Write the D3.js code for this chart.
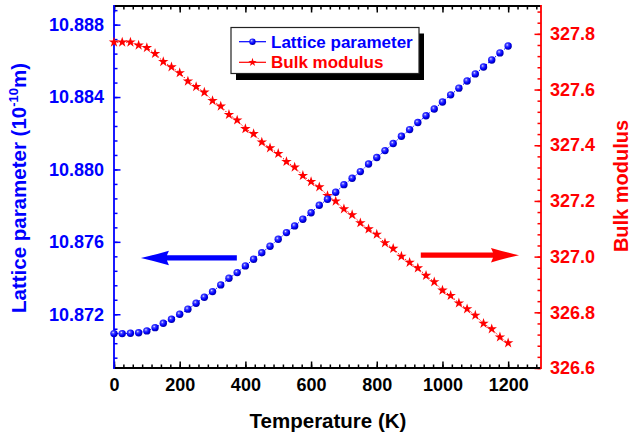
<!DOCTYPE html>
<html>
<head>
<meta charset="utf-8">
<script src="https://cdn.jsdelivr.net/npm/d3@7"></script>
<style>
    body { margin: 0; background: #fff; }
    svg { display: block; font-family: "Liberation Sans", Arial, sans-serif; font-weight: bold; }
</style>
</head>
<body>
<svg id="chart" width="633" height="435"></svg>
<script>
// data
const temperature = [0, 25, 50, 75, 100, 125, 150, 175, 200, 225, 250, 275, 300, 325, 350, 375, 400,
    425, 450, 475, 500, 525, 550, 575, 600, 625, 650, 675, 700, 725, 750, 775, 800,
    825, 850, 875, 900, 925, 950, 975, 1000, 1025, 1050, 1075, 1100, 1125, 1150, 1175, 1200];
const latticeParam = [10.87093, 10.87093, 10.87095, 10.87098, 10.87108, 10.87126, 10.87150, 10.87172,
    10.87200, 10.87228, 10.87261, 10.87294, 10.87325, 10.87362, 10.87399, 10.87430, 10.87467,
    10.87504, 10.87540, 10.87576, 10.87614, 10.87651, 10.87688, 10.87725, 10.87761, 10.87802,
    10.87835, 10.87874, 10.87916, 10.87951, 10.87988, 10.88030, 10.88066, 10.88104, 10.88143,
    10.88183, 10.88220, 10.88259, 10.88297, 10.88334, 10.88373, 10.88412, 10.88449, 10.88489,
    10.88528, 10.88566, 10.88605, 10.88644, 10.88682];
const bulkModulus = [327.770, 327.770, 327.770, 327.759, 327.750, 327.729, 327.700, 327.681, 327.660,
    327.630, 327.610, 327.590, 327.560, 327.540, 327.510, 327.490, 327.459, 327.441, 327.411,
    327.390, 327.370, 327.341, 327.321, 327.291, 327.269, 327.250, 327.219, 327.199, 327.171,
    327.150, 327.121, 327.099, 327.080, 327.049, 327.029, 327.001, 326.979, 326.959, 326.932,
    326.909, 326.879, 326.860, 326.833, 326.812, 326.789, 326.760, 326.740, 326.711, 326.690];

const xTicks = [0, 200, 400, 600, 800, 1000, 1200];
const leftTicks = [10.872, 10.876, 10.880, 10.884, 10.888];
const rightTicks = [326.6, 326.8, 327.0, 327.2, 327.4, 327.6, 327.8];
const seriesNames = ["Lattice parameter", "Bulk modulus"];
// arrows: [x start, x end, y] in data units of their own axis
const leftArrow = [374, 82, 10.87511];
const rightArrow = [934, 1233, 327.005];

const blue = "#0000ff";
const red = "#ff0000";

const svg = d3.select("#chart");
const plot = { left: 114, right: 541, top: 6, bottom: 368 };

const x = d3.scaleLinear().domain([0, 1300]).range([plot.left, plot.right]);
const yL = d3.scaleLinear().domain([10.86903, 10.88903]).range([plot.bottom, plot.top]);
const yR = d3.scaleLinear().domain([326.6, 327.9]).range([plot.bottom, plot.top]);

// ball gradient
const defs = svg.append("defs");
const grad = defs.append("radialGradient").attr("id", "ball")
    .attr("cx", "38%").attr("cy", "35%").attr("r", "65%");
grad.append("stop").attr("offset", "0%").attr("stop-color", "#e8e8ff");
grad.append("stop").attr("offset", "25%").attr("stop-color", "#4a4aff");
grad.append("stop").attr("offset", "65%").attr("stop-color", "#0000ff");
grad.append("stop").attr("offset", "100%").attr("stop-color", "#0000a8");

// minor tick helpers
const minorX = d3.range(0, 1300.1, 200 / 7);
const minorL = d3.range(-23, 2).map((k) => 10.888 + k * 0.0008);
const minorR = d3.range(0, 33).map((k) => 326.6 + k * 0.04);

function styleAxis(g, color) {
    g.select(".domain").remove();
    g.selectAll("line").attr("stroke", color).attr("stroke-width", 1.5);
    g.selectAll("text").attr("fill", color).style("font-size", "18px")
        .style("font-family", "'Liberation Sans', Arial, sans-serif").style("font-weight", "bold");
}

// bottom axis
svg.append("g").attr("transform", `translate(0,${plot.bottom})`)
    .call(d3.axisBottom(x).tickValues(minorX).tickSizeInner(-3.5).tickSizeOuter(0).tickFormat(""))
    .call((g) => styleAxis(g, "#000"));
svg.append("g").attr("transform", `translate(0,${plot.bottom})`)
    .call(d3.axisBottom(x).tickValues(xTicks).tickSizeInner(-6.5).tickSizeOuter(0)
        .tickPadding(10).tickFormat(d3.format("d")))
    .call((g) => styleAxis(g, "#000"));

// top axis (mirror, no labels)
svg.append("g").attr("transform", `translate(0,${plot.top})`)
    .call(d3.axisTop(x).tickValues(minorX).tickSizeInner(-3.5).tickSizeOuter(0).tickFormat(""))
    .call((g) => styleAxis(g, "#000"));
svg.append("g").attr("transform", `translate(0,${plot.top})`)
    .call(d3.axisTop(x).tickValues(xTicks).tickSizeInner(-6.5).tickSizeOuter(0).tickFormat(""))
    .call((g) => styleAxis(g, "#000"));

// left axis
svg.append("g").attr("transform", `translate(${plot.left},0)`)
    .call(d3.axisLeft(yL).tickValues(minorL).tickSizeInner(-3.5).tickSizeOuter(0).tickFormat(""))
    .call((g) => styleAxis(g, blue));
svg.append("g").attr("transform", `translate(${plot.left},0)`)
    .call(d3.axisLeft(yL).tickValues(leftTicks).tickSizeInner(-6.5).tickSizeOuter(0)
        .tickPadding(10).tickFormat(d3.format(".3f")))
    .call((g) => styleAxis(g, blue));

// right axis
svg.append("g").attr("transform", `translate(${plot.right},0)`)
    .call(d3.axisRight(yR).tickValues(minorR).tickSizeInner(-3.5).tickSizeOuter(0).tickFormat(""))
    .call((g) => styleAxis(g, red));
svg.append("g").attr("transform", `translate(${plot.right},0)`)
    .call(d3.axisRight(yR).tickValues(rightTicks).tickSizeInner(-6.5).tickSizeOuter(0)
        .tickPadding(9).tickFormat(d3.format(".1f")))
    .call((g) => styleAxis(g, red));

// frame lines
const frame = svg.append("g").attr("stroke-width", 1.8);
frame.append("line").attr("x1", plot.left).attr("x2", plot.right)
    .attr("y1", plot.top).attr("y2", plot.top).attr("stroke", "#000");
frame.append("line").attr("x1", plot.left).attr("x2", plot.right)
    .attr("y1", plot.bottom).attr("y2", plot.bottom).attr("stroke", "#000");
frame.append("line").attr("x1", plot.left).attr("x2", plot.left)
    .attr("y1", plot.top - 0.9).attr("y2", plot.bottom + 0.9).attr("stroke", blue);
frame.append("line").attr("x1", plot.right).attr("x2", plot.right)
    .attr("y1", plot.top - 0.9).attr("y2", plot.bottom + 0.9).attr("stroke", red);

// axis titles
svg.append("text").attr("x", 328).attr("y", 428).attr("text-anchor", "middle")
    .style("font-size", "20.5px").attr("fill", "#000").text("Temperature (K)");

const leftTitle = svg.append("text").attr("transform", "translate(26,188) rotate(-90)")
    .attr("text-anchor", "middle").style("font-size", "20.5px").attr("fill", blue);
leftTitle.append("tspan").text("Lattice parameter (10");
leftTitle.append("tspan").attr("dy", -8).style("font-size", "13px").text("-10");
leftTitle.append("tspan").attr("dy", 8).text("m)");

svg.append("text").attr("transform", "translate(628,186) rotate(-90)")
    .attr("text-anchor", "middle").style("font-size", "20px").attr("fill", red).text("Bulk modulus");

// data lines
const latticeData = temperature.map((t, i) => [t, latticeParam[i]]);
const bulkData = temperature.map((t, i) => [t, bulkModulus[i]]);

svg.append("path").datum(latticeData)
    .attr("d", d3.line().x((d) => x(d[0])).y((d) => yL(d[1])))
    .attr("fill", "none").attr("stroke", blue).attr("stroke-width", 1).attr("stroke-dasharray", "1.5,1.5");
svg.append("path").datum(bulkData)
    .attr("d", d3.line().x((d) => x(d[0])).y((d) => yR(d[1])))
    .attr("fill", "none").attr("stroke", red).attr("stroke-width", 1).attr("stroke-dasharray", "1.5,1.5");

const star = d3.symbol().type(d3.symbolStar).size(34);

svg.append("g").selectAll("path").data(bulkData).join("path")
    .attr("d", star)
    .attr("transform", (d) => `translate(${x(d[0])},${yR(d[1])})`)
    .attr("fill", red);

svg.append("g").selectAll("circle").data(latticeData).join("circle")
    .attr("cx", (d) => x(d[0])).attr("cy", (d) => yL(d[1])).attr("r", 3.7)
    .attr("fill", "url(#ball)");

// arrows
function arrowPath(x0, x1, y, head = 26, half = 7.3, shaft = 2.6) {
    const dir = Math.sign(x1 - x0);
    const b = x1 - dir * head;
    return `M${x0},${y - shaft} L${b},${y - shaft} L${b - dir * 2},${y - half}
        Q${b + dir * head * 0.5},${y - half * 0.4} ${x1},${y}
        Q${b + dir * head * 0.5},${y + half * 0.4} ${b - dir * 2},${y + half}
        L${b},${y + shaft} L${x0},${y + shaft} Z`;
}
svg.append("path")
    .attr("d", arrowPath(x(leftArrow[0]), x(leftArrow[1]), yL(leftArrow[2])))
    .attr("fill", blue);
svg.append("path")
    .attr("d", arrowPath(x(rightArrow[0]), x(rightArrow[1]), yR(rightArrow[2])))
    .attr("fill", red);

// legend
const legend = svg.append("g");
legend.append("rect").attr("x", 236).attr("y", 33.5).attr("width", 188).attr("height", 46.5).attr("fill", "#000");
legend.append("rect").attr("x", 231).attr("y", 27.5).attr("width", 188).attr("height", 46)
    .attr("fill", "#fff").attr("stroke", "#222").attr("stroke-width", 1.2);
const rows = [
    { name: seriesNames[0], color: blue, y: 41.7 },
    { name: seriesNames[1], color: red, y: 62.3 }
];
rows.forEach((r, i) => {
    legend.append("line").attr("x1", 239).attr("x2", 266).attr("y1", r.y).attr("y2", r.y)
        .attr("stroke", r.color).attr("stroke-width", 1.2);
    if (i === 0) {
        legend.append("circle").attr("cx", 252.5).attr("cy", r.y).attr("r", 3.2).attr("fill", "url(#ball)");
    } else {
        legend.append("path").attr("d", d3.symbol().type(d3.symbolStar).size(22))
            .attr("transform", `translate(252.5,${r.y})`).attr("fill", red);
    }
    legend.append("text").attr("x", 271).attr("y", r.y).attr("dy", "0.35em")
        .style("font-size", "17px").attr("fill", r.color).text(r.name);
});
</script>
</body>
</html>
